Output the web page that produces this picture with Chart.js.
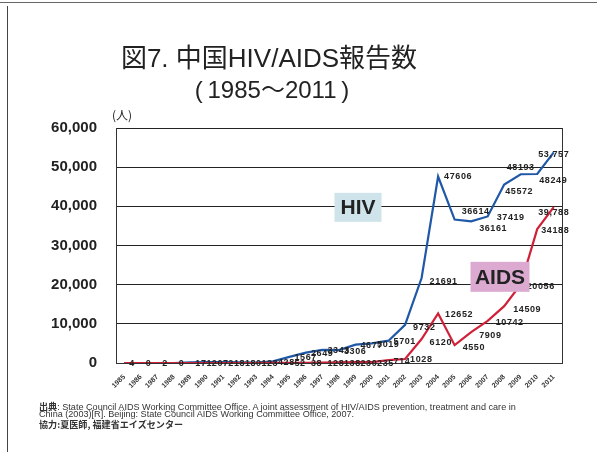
<!DOCTYPE html>
<html>
<head>
<meta charset="utf-8">
<script src="https://cdn.jsdelivr.net/npm/chart.js@4.4.1/dist/chart.umd.min.js"></script>
<style>
  body { margin: 0; background: #fff; }
  #wrap { position: relative; width: 597px; height: 452px; overflow: hidden; background: #fff; }
  #c { position: absolute; left: 0; top: 0; }
  .txt { position: absolute; white-space: nowrap; color: #222; }
  .t1 { left: 0; width: 538px; text-align: center; top: 45px; font: 26px/26px "Liberation Sans", "Noto Sans CJK JP"; }
  .t2 { left: 0; width: 544px; text-align: center; top: 78px; font: 24px/24px "Liberation Sans", "Noto Sans CJK JP"; }
  .unit { left: 112px; top: 108px; font: 12px/14px "Noto Sans CJK JP"; }
  .foot { left: 39px; font: 9.1px/10px "Liberation Sans", "Noto Sans CJK JP"; color: #333; }
  .frameL { position: absolute; left: 7px; top: 6px; width: 1px; height: 446px; background: #444; }
  .frameT { position: absolute; left: 0; top: 2px; width: 597px; height: 1px; background: #666; }
</style>
</head>
<body>
<div id="wrap">
  <canvas id="c" width="597" height="452"></canvas>
  <div class="frameT"></div>
  <div class="frameL"></div>
  <div class="txt t1">図7. 中国HIV/AIDS報告数</div>
  <div class="txt t2">(&thinsp;1985〜2011&thinsp;)</div>
  <div class="txt unit">(人)</div>
  <div class="txt foot" style="top:401px"><b style="font-family:'Noto Sans CJK JP'">出典</b>: State Council AIDS Working Committee Office. A joint assessment of HIV/AIDS prevention, treatment and care in</div>
  <div class="txt foot" style="top:409px">China (2003)[R]. Beijing: State Council AIDS Working Committee Office, 2007.</div>
  <div class="txt foot" style="top:419px;font-weight:bold;font-family:'Noto Sans CJK JP'">協力:夏医師, 福建省エイズセンター</div>
</div>
<script>
// years
const years = ["1985","1986","1987","1988","1989","1990","1991","1992","1993","1994",
  "1995","1996","1997","1998","1999","2000","2001","2002","2003","2004",
  "2005","2006","2007","2008","2009","2010","2011"];

// reported HIV cases per year
const hivCases = [4, 0, 2, 0, 171, 207, 218, 180, 123, 428,
  1567, 2649, 3343, 3306, 4677, 5019, 5701, 9732, 21691, 47606,
  36614, 36161, 37419, 45572, 48193, 48249, 53757];

// reported AIDS cases per year
const aidsCases = [0, 0, 0, 0, 0, 0, 0, 0, 0, 29,
  52, 38, 128, 138, 230, 235, 714, 1028, 6120, 12652,
  4550, 7909, 10742, 14509, 20056, 34188, 39788];

// y axis ticks
const yTicks = [0, 10000, 20000, 30000, 40000, 50000, 60000];

// where each value label sits relative to its point: [dx, dy, align]
const hivSpots = { "2002": [8, 3], "2003": [8, 3], "2004": [6, 0], "2005": [7, -8], "2006": [8, 7],
  "2007": [9, 1], "2008": [1, 7], "2009": [0, -7, "center"], "2010": [2, 6], "2011": [0, 2, "center"] };
const aidsSpots = { "2003": [8, 3], "2004": [7, 1], "2005": [8, 2], "2006": [8, 3], "2007": [8, 2],
  "2008": [9, 3], "2009": [6, 2], "2010": [4, 1], "2011": [0, 5, "center"] };

const labelPlugin = {
  id: "valueLabels",
  afterDatasetsDraw(chart) {
    const ctx = chart.ctx;
    const area = chart.chartArea;
    ctx.save();
    // right frame of the plot
    ctx.strokeStyle = "#333";
    ctx.lineWidth = 1;
    ctx.beginPath();
    ctx.moveTo(Math.round(area.right) + 0.5, area.top);
    ctx.lineTo(Math.round(area.right) + 0.5, area.bottom);
    ctx.stroke();

    ctx.font = "bold 9px 'Liberation Sans', Arial";
    ctx.letterSpacing = "0.6px";
    ctx.fillStyle = "#222";
    ctx.textBaseline = "middle";
    const sets = [
      { idx: 1, spots: hivSpots, from: 0 },
      { idx: 0, spots: aidsSpots, from: 10 }
    ];
    sets.forEach(s => {
      const meta = chart.getDatasetMeta(s.idx);
      const vals = chart.data.datasets[s.idx].data;
      meta.data.forEach((pt, i) => {
        if (i < s.from) return;
        const yr = years[i];
        const sp = s.spots[yr] || [5, 1];
        const txt = yr === "2011" ? vals[i].toLocaleString("en-US") : String(vals[i]);
        ctx.textAlign = sp[2] || "left";
        ctx.fillText(txt, pt.x + sp[0], pt.y + sp[1]);
      });
    });

    // series name boxes
    const yS = chart.scales.y;
    function nameBox(text, cx, cy, w, h, fill) {
      ctx.fillStyle = fill;
      ctx.fillRect(cx - w / 2, cy - h / 2, w, h);
      ctx.fillStyle = "#222";
      ctx.letterSpacing = "0px";
      ctx.font = "bold 21px 'Liberation Sans', Arial";
      ctx.textAlign = "center";
      ctx.textBaseline = "middle";
      ctx.fillText(text, cx, cy + 1);
    }
    nameBox("HIV", 358, yS.getPixelForValue(40000) + 1, 47, 29, "#cfe4ea");
    nameBox("AIDS", 500, yS.getPixelForValue(22000), 59, 30, "#dcaad0");
    ctx.restore();
  }
};

new Chart(document.getElementById("c"), {
  type: "line",
  data: {
    labels: years,
    datasets: [
      { label: "AIDS", data: aidsCases, borderColor: "#d0213a", borderWidth: 2.2, pointRadius: 0, tension: 0, order: 0 },
      { label: "HIV", data: hivCases, borderColor: "#1f58a6", borderWidth: 2.2, pointRadius: 0, tension: 0, order: 1 }
    ]
  },
  options: {
    responsive: false,
    animation: false,
    layout: { padding: { top: 128, right: 35, bottom: 0, left: 0 } },
    plugins: { legend: { display: false }, tooltip: { enabled: false } },
    scales: {
      x: {
        offset: true,
        grid: { display: false },
        border: { display: true, color: "#333", width: 1 },
        ticks: {
          autoSkip: false, minRotation: 45, maxRotation: 45, padding: 2,
          color: "#333", font: { family: "'Liberation Sans', Arial", size: 7, weight: "bold" }
        },
        afterFit(scale) { scale.height = 89; }
      },
      y: {
        min: 0, max: 60000,
        afterBuildTicks(scale) { scale.ticks = yTicks.map(v => ({ value: v })); },
        grid: { color: "#222", lineWidth: 1, drawTicks: false },
        border: { display: true, color: "#333", width: 1 },
        ticks: {
          padding: 19, color: "#222",
          font: { family: "'Liberation Sans', Arial", size: 15, weight: "bold" },
          callback: v => v.toLocaleString("en-US")
        },
        afterFit(scale) { scale.width = 116; }
      }
    }
  },
  plugins: [labelPlugin]
});
</script>
</body>
</html>
